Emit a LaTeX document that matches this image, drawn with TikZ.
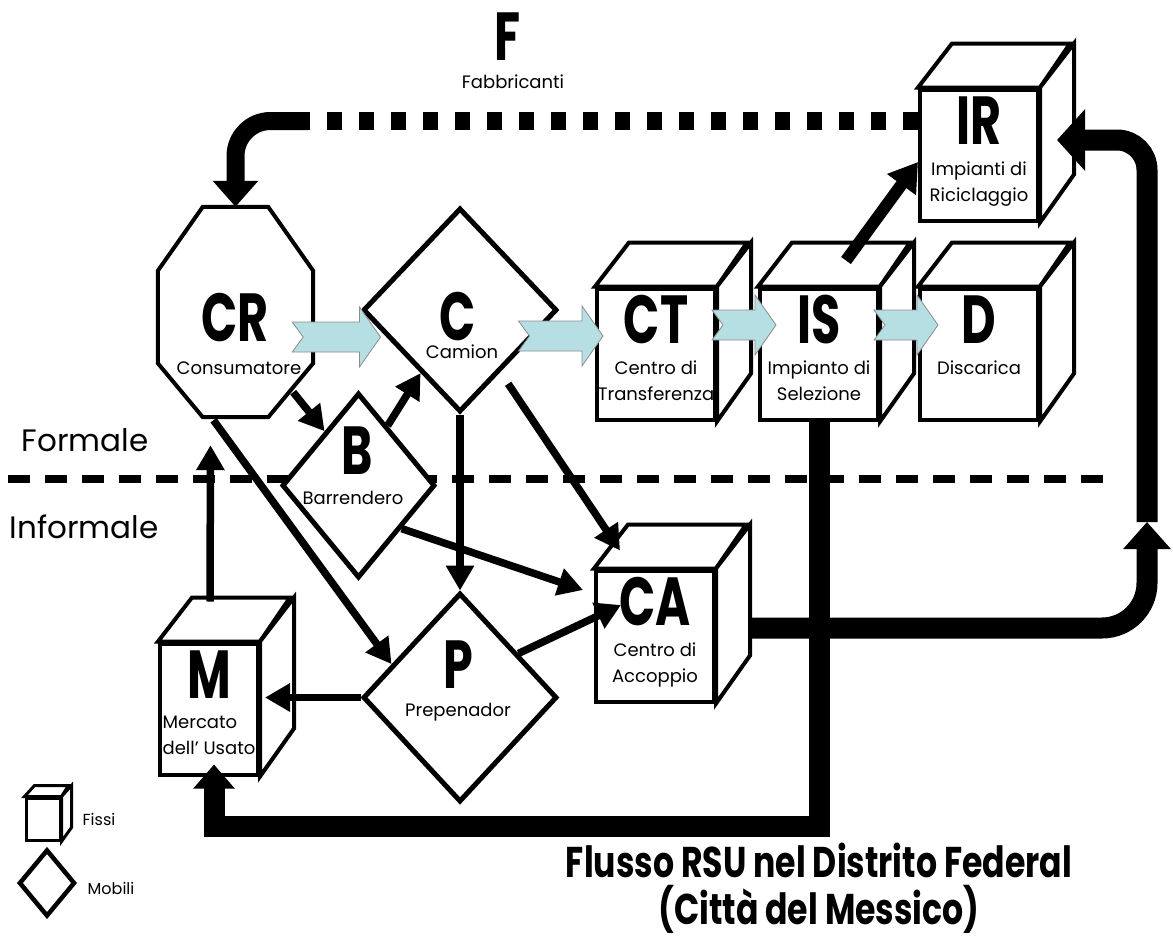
\documentclass[tikz,border=0pt]{standalone}
\usepackage{fontspec}
\setmainfont{Poppins}
\newfontfamily\siglafont[FakeStretch=0.7]{Poppins}
\newfontfamily\titolofont[FakeStretch=0.77]{Poppins}
\usetikzlibrary{shapes.geometric, arrows.meta, positioning, calc}
\definecolor{cazzurro}{HTML}{B6DFE3}
\tikzset{
  bordo/.style={draw=black, line width=4pt, line join=miter},
  fisso/.style={rectangle, bordo, fill=white, minimum height=131pt, inner sep=0pt},
  mobile/.style={diamond, draw=black, line width=5pt, fill=white, inner sep=0pt},
  sigla/.style={font=\siglafont\bfseries\fontsize{68}{68}\selectfont, inner sep=0pt},
  nota/.style={font=\fontsize{18}{26}\selectfont, align=center, inner sep=0pt},
  zona/.style={font=\fontsize{31}{31}\selectfont, inner sep=0pt},
  legenda/.style={font=\fontsize{16}{16}\selectfont, inner sep=0pt},
  freccia/.style={draw=black, line width=7.5pt, -{Triangle[length=25pt, width=27pt]}},
  tubo/.style={draw=black, line width=21pt, -{Triangle[length=27pt, width=46pt]}},
  azzurra/.style={fill=cazzurro, draw=black!45, line width=0.8pt},
}
% cubo: nome, posizione, larghezza, sigla, testo
\newcommand{\cubo}[6][center]{%
  \node[fisso, minimum width=#4pt] (#2) at #3 {};
  \draw[bordo, fill=white] (#2.north west) -- ++(34,-44) -- ++(#4,0) -- (#2.north east) -- cycle;
  \draw[bordo, fill=white] (#2.north east) -- ++(34,-44) -- ++(0,131) -- (#2.south east) -- cycle;
  \node[sigla] (#2s) at ($(#2.north)+(0,33)$) {#5};
  \node[nota, align=#1, anchor=north] (#2t) at ($(#2.north)+(0,74)$) {#6};
}
% freccia azzurra: da, a, quota, rientro coda, rientro punta
\newcommand{\flussoblu}[5]{%
  \coordinate (fbA) at ($(#1 |- 0,#3)+(#4,0)$);
  \coordinate (fbB) at ($(#2 |- 0,#3)+(#5,0)$);
  \filldraw[azzurra] (fbA) -- ++(-11,-15) -- ($(fbB)+(-21,-15)$) -- ++(0,-15) -- (fbB)
    -- ++(-21,30) -- ++(0,-15) -- ($(fbA)+(-11,15)$) -- cycle;
}

\begin{document}
\begin{tikzpicture}[x=1pt, y=-1pt]
  \useasboundingbox (0,0) rectangle (1173,940);

  % linea formale / informale
  \draw[line width=8pt, dash pattern=on 22pt off 15pt] (8,479) -- (1103,479);
  \node[zona] (formale) at (85,440) {Formale};
  \node[zona] (informale) at (84,527) {Informale};

  % attori
  \node[rectangle, minimum width=155pt, minimum height=210pt, inner sep=0pt] (CR) at (235.5,312) {};
  \draw[bordo, fill=white] ($(CR.north west)+(45,0)$) -- ($(CR.north east)+(-45,0)$)
    -- ($(CR.north east)+(0,64)$) -- ($(CR.south east)+(0,-54)$) -- ($(CR.south east)+(-45,0)$)
    -- ($(CR.south west)+(45,0)$) -- ($(CR.south west)+(0,-54)$) -- ($(CR.north west)+(0,64)$) -- cycle;
  \node[sigla] (CRs) at (235,318) {CR};
  \node[nota] (CRt) at (239,368) {Consumatore};

  \node[mobile, minimum width=194pt, minimum height=204pt] (C) at (460,310) {};
  \node[sigla] (Cs) at (458,317) {C};
  \node[nota] (Ct) at (462,352) {Camion};

  \node[mobile, minimum width=153pt, minimum height=185pt] (B) at (358.5,485.5) {};
  \node[sigla] (Bs) at (357,451) {B};
  \node[nota] (Bt) at (353,498) {Barrendero};

  \node[mobile, minimum width=194pt, minimum height=209pt] (P) at (460,697.5) {};
  \node[sigla] (Ps) at (458,665) {P};
  \node[nota] (Pt) at (458,712) {Prepenador};

  \cubo{CT}{(656,354)}{118}{CT}{Centro di\\Transferenza}
  \cubo{IS}{(819,354)}{118}{IS}{Impianto di\\Selezione}
  \cubo{D}{(979,354)}{118}{D}{Discarica}
  \cubo{IR}{(979,155)}{118}{IR}{Impianti di\\Riciclaggio}
  \cubo{CA}{(655,636)}{118}{CA}{Centro di\\Accoppio}
  \cubo[left]{M}{(209,709)}{98}{M}{Mercato\\dell' Usato}

  \node[sigla] (F) at (508,37) {F};
  \node[nota] (Ft) at (513,82) {Fabbricanti};

  % flussi
  \draw[freccia] ($(CR.south east)+(-20,-25)$) -- (B.122);
  \draw[freccia] (B.64) -- (C.-122);
  \draw[freccia] (C.south) -- (P.north);
  \draw[freccia, shorten <=14pt] (C.-57) -- ($(CA.north west)+(26,-18)$);
  \draw[freccia] ($(CR.south)+(-22,3)$) -- (P.154);
  \draw[freccia] (B.-45) -- ($(CA.west)+(-11,-46)$);
  \draw[freccia] (P.37) -- ($(CA.west)+(27,-31)$);
  \draw[freccia] (P.west) -- ($(M.east |- P.west)+(5,0)$);
  \draw[freccia] ($(M.north)+(1,-40)$) -- ($(CR.south)+(-25,28)$);
  \draw[freccia, line width=12pt, -{Triangle[length=28pt, width=34pt]}]
    ($(IS.north west)+(88,-26)$) -- ($(IR.west)+(0,7)$);

  \coordinate (nodo) at (1147,522);
  \draw[tubo, rounded corners=45pt] ($(CA.east)+(36,-8)$) -| (nodo);
  \draw[tubo, rounded corners=30pt, -{Triangle[length=28pt, width=60pt]}] (nodo) |- ($(IR.east)+(17,-15)$);
  \draw[tubo, -{Triangle[length=24pt, width=40pt]}] (IS.south) |- ($(M.south)+(5,50)$) -- ($(M.south)+(5,-12)$);

  \coordinate (piega) at (308,121);
  \draw[line width=18pt, dash pattern=on 15pt off 17pt] ($(IR.west)+(0,-34)$) -- (piega);
  \draw[tubo, line width=18pt, rounded corners=35pt, -{Triangle[length=26pt, width=44pt]}] (piega) -| (CR.north);

  \flussoblu{CR.east}{C.west}{337}{-10}{20}
  \flussoblu{C.east}{CT.west}{336}{-30}{8}
  \flussoblu{CT.east}{IS.west}{325}{6}{18}
  \flussoblu{IS.east}{D.west}{325}{5}{20}

  % legenda
  \node[draw, line width=3pt, fill=white, minimum width=34pt, minimum height=42pt, inner sep=0pt] (Lfisso) at (43,819) {};
  \draw[line width=3pt, fill=white] (Lfisso.north west) -- ++(10,-11) -- ++(34,0) -- (Lfisso.north east) -- cycle;
  \draw[line width=3pt, fill=white] (Lfisso.north east) -- ++(10,-11) -- ++(0,42) -- (Lfisso.south east) -- cycle;
  \node[legenda] (Lfissot) at (99,819) {Fissi};
  \node[diamond, draw, line width=4.5pt, minimum width=56pt, minimum height=67pt, inner sep=0pt] (Lmobile) at (47,883) {};
  \node[legenda] (Lmobilet) at (111,888) {Mobili};

  \node[font=\titolofont\bfseries\fontsize{43}{47}\selectfont, align=center, inner sep=0pt] (titolo) at (819,888)
    {Flusso RSU nel Distrito Federal\\(Città del Messico)};
\end{tikzpicture}
\end{document}
